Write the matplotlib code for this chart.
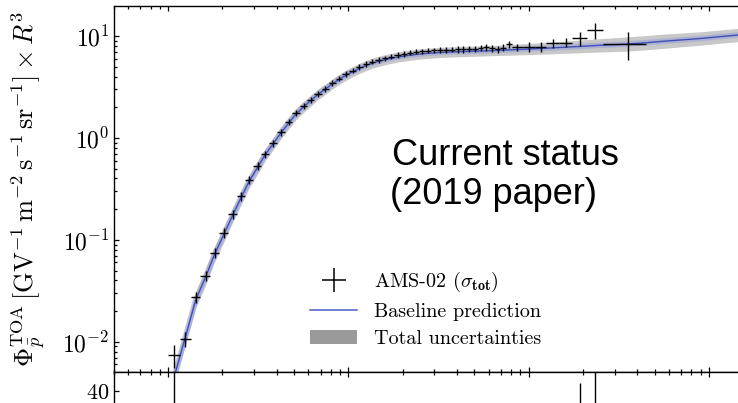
import numpy as np
import matplotlib
matplotlib.use('Agg')
import matplotlib.pyplot as plt
from matplotlib.lines import Line2D
from matplotlib.patches import Patch
from matplotlib.ticker import FixedLocator

# ---------------- data ----------------
# AMS-02 rigidity bins [GV]
bin_edges = [1.00, 1.16, 1.33, 1.51, 1.71, 1.92, 2.15, 2.40, 2.67, 2.97,
             3.29, 3.64, 4.02, 4.43, 4.88, 5.37, 5.90, 6.47, 7.09, 7.76,
             8.48, 9.26, 10.1, 11.0, 12.0, 13.0, 14.1, 15.3, 16.6, 18.0,
             19.5, 21.1, 22.8, 24.7, 26.7, 28.8, 31.1, 33.5, 36.1, 38.9,
             41.9, 45.1, 48.5, 52.2, 56.1, 60.3, 64.8, 69.7, 74.9, 80.5,
             93.0, 108, 125, 147, 175, 211, 259, 450]
ams_R = [1.08, 1.245, 1.42, 1.61, 1.815, 2.035, 2.275, 2.535, 2.82, 3.13,
         3.465, 3.83, 4.225, 4.655, 5.125, 5.635, 6.185, 6.78, 7.425, 8.12,
         8.87, 9.68, 10.55, 11.5, 12.5, 13.55, 14.7, 15.95, 17.3, 18.75,
         20.3, 21.95, 23.75, 25.7, 27.75, 29.95, 32.3, 34.8, 37.5, 40.4,
         43.5, 46.8, 50.35, 54.15, 58.2, 62.55, 67.25, 72.3, 77.7, 86.75,
         100.5, 116.5, 136, 161, 193, 235, 354.5]
ams_flux = [0.00741, 0.01063, 0.02746, 0.04443, 0.07421, 0.1166, 0.1791, 0.2690, 0.3862, 0.5300,
            0.6950, 0.891, 1.143, 1.432, 1.756, 2.056, 2.355, 2.728, 3.053, 3.458,
            3.827, 4.238, 4.586, 4.964, 5.312, 5.621, 5.814, 6.042, 6.265, 6.509,
            6.659, 6.857, 7.014, 7.078, 7.175, 7.241, 7.290, 7.290, 7.373, 7.407,
            7.407, 7.457, 7.541, 7.627, 7.749, 7.576, 7.457, 7.713, 8.347, 7.798,
            7.852, 7.852, 8.481, 8.597, 9.494, 11.37, 8.347]
ams_relerr = [0.25, 0.17, 0.12, 0.12, 0.11, 0.11, 0.10, 0.10, 0.09, 0.09,
              0.08, 0.08, 0.08, 0.07, 0.07, 0.07, 0.07, 0.07, 0.07, 0.07,
              0.06, 0.06, 0.06, 0.06, 0.06, 0.06, 0.06, 0.06, 0.06, 0.06,
              0.06, 0.06, 0.06, 0.06, 0.06, 0.06, 0.06, 0.06, 0.06, 0.07,
              0.07, 0.07, 0.07, 0.07, 0.07, 0.07, 0.08, 0.08, 0.08, 0.08,
              0.11, 0.11, 0.10, 0.10, 0.15, 0.18, 0.30]

# baseline prediction and its total uncertainty (half width in dex)
model_R = [1.0, 1.1, 1.24, 1.42, 1.62, 1.81, 2.04, 2.28, 2.53, 2.8,
           3.14, 3.46, 3.83, 4.22, 4.66, 5.12, 5.64, 6.19, 6.78, 7.43,
           8.12, 8.87, 9.68, 10.55, 11.5, 12.5, 13.55, 14.7, 15.95, 17.3,
           18.75, 20.3, 23.75, 27.7, 32.3, 37.6, 43.5, 50.4, 58.2, 66.8,
           80, 100, 130, 162, 200, 237, 300, 353, 450, 538,
           700, 897, 1150, 1460, 2000]
model_flux = [0.0030, 0.00512, 0.01087, 0.0257, 0.0441, 0.0726, 0.114, 0.175, 0.257, 0.369,
              0.518, 0.69, 0.88, 1.12, 1.40, 1.72, 2.02, 2.33, 2.68, 3.0,
              3.38, 3.75, 4.12, 4.47, 4.81, 5.12, 5.40, 5.64, 5.85, 6.04,
              6.21, 6.35, 6.60, 6.77, 6.90, 6.98, 7.05, 7.10, 7.16, 7.22,
              7.32, 7.45, 7.62, 7.78, 7.93, 8.07, 8.22, 8.35, 8.6, 8.83,
              9.15, 9.45, 9.85, 10.23, 10.7]
model_unc = [0.08, 0.08, 0.08, 0.08, 0.08, 0.075, 0.075, 0.07, 0.07, 0.065,
             0.065, 0.06, 0.06, 0.06, 0.058, 0.056, 0.055, 0.054, 0.053, 0.052,
             0.05, 0.05, 0.05, 0.05, 0.05, 0.05, 0.05, 0.05, 0.05, 0.05,
             0.05, 0.05, 0.05, 0.05, 0.05, 0.05, 0.05, 0.05, 0.05, 0.05,
             0.052, 0.055, 0.058, 0.06, 0.063, 0.065, 0.068, 0.07, 0.07, 0.07,
             0.068, 0.066, 0.065, 0.065, 0.065]

# lower (residual) panel, only the visible error bars
res_R = [1.08, 193, 235]
res_val = [30, 22, 32]
res_err = [40, 22, 30]

ytick_vals = [1e-2, 1e-1, 1e0, 1e1]
res_ticks = [40]

# ---------------- style ----------------
plt.rcParams.update({
    'font.family': 'serif', 'font.serif': ['cmr10'], 'mathtext.fontset': 'cm',
    'axes.formatter.use_mathtext': True, 'axes.unicode_minus': False,
    'axes.linewidth': 1.0,
})

W, H = 738, 403
fig = plt.figure(figsize=(W / 100, H / 100), dpi=100)


def rect(x0, y0, x1, y1):
    return [x0 / W, 1 - y1 / H, (x1 - x0) / W, (y1 - y0) / H]


ax = fig.add_axes(rect(114, 6, 763, 372))
axr = fig.add_axes(rect(114, 372, 763, 582))

R = np.array(ams_R)
F = np.array(ams_flux)
edges = np.array(bin_edges)
xerr = [R - edges[:-1], edges[1:] - R]
yerr = F * np.array(ams_relerr)

mR = np.array(model_R)
mF = np.array(model_flux)
mu = np.array(model_unc)

ax.fill_between(mR, mF * 10 ** (-mu), mF * 10 ** (mu), color='#c8c8c8', lw=0, zorder=1)
ax.plot(mR, mF, color='#9aa3d8', lw=4.0, alpha=0.6, zorder=2, solid_capstyle='butt')
ax.plot(mR, mF, color='#3f4fb5', lw=1.0, zorder=3)
ax.errorbar(R, F, xerr=xerr, yerr=yerr, fmt='none', ecolor='black',
            elinewidth=1.0, capsize=0, zorder=5)

ax.set_xscale('log')
ax.set_yscale('log')
ax.set_xlim(0.5, 2000)
ax.set_ylim(0.00505, 19.7)
ax.yaxis.set_major_locator(FixedLocator(ytick_vals))
ax.tick_params(which='both', direction='in', top=True, right=True,
               labelbottom=False, labelsize=17, width=0.9)
ax.tick_params(which='major', length=3.6)
ax.tick_params(which='minor', length=2.2)

ax.set_ylabel(r'$\Phi_{\bar{p}}^{\rm TOA}\,[{\rm GV}^{-1}\,{\rm m}^{-2}\,{\rm s}^{-1}\,{\rm sr}^{-1}]\times R^3$',
              fontsize=19)
ax.yaxis.set_label_coords(-0.103, 0.5)

# residual panel
axr.errorbar(res_R, res_val, yerr=res_err, fmt='none', ecolor='black',
             elinewidth=1.0, capsize=0)
axr.set_xscale('log')
axr.set_xlim(0.5, 2000)
axr.set_ylim(-50, 49.2)
axr.yaxis.set_major_locator(FixedLocator(res_ticks))
axr.tick_params(which='both', direction='in', top=True, right=True,
                labelbottom=False, labelsize=16, width=0.9)
axr.tick_params(which='major', length=3.6)
axr.tick_params(which='minor', length=2.2)

# legend
handles = [Line2D([], [], color='black', marker='+', ls='none', ms=17, mew=1.1),
           Line2D([], [], color='#4a5cc8', lw=1.1),
           Patch(facecolor='#9a9a9a', edgecolor='none')]
labels = [r'AMS-02 ($\sigma_{\mathbf{tot}}$)', 'Baseline prediction', 'Total uncertainties']
fig.legend(handles, labels, loc='center left', bbox_to_anchor=(310 / W, 1 - 309 / H),
           frameon=False, fontsize=14.5, handlelength=2.35, handletextpad=0.85,
           labelspacing=0.45, borderpad=0, borderaxespad=0)

# annotation
fig.text(392 / W, 1 - 165 / H, 'Current status', family='Liberation Sans',
         fontsize=26, va='baseline', ha='left')
fig.text(390 / W, 1 - 204 / H, '(2019 paper)', family='Liberation Sans',
         fontsize=26, va='baseline', ha='left')

fig.savefig('out.png', dpi=100)
